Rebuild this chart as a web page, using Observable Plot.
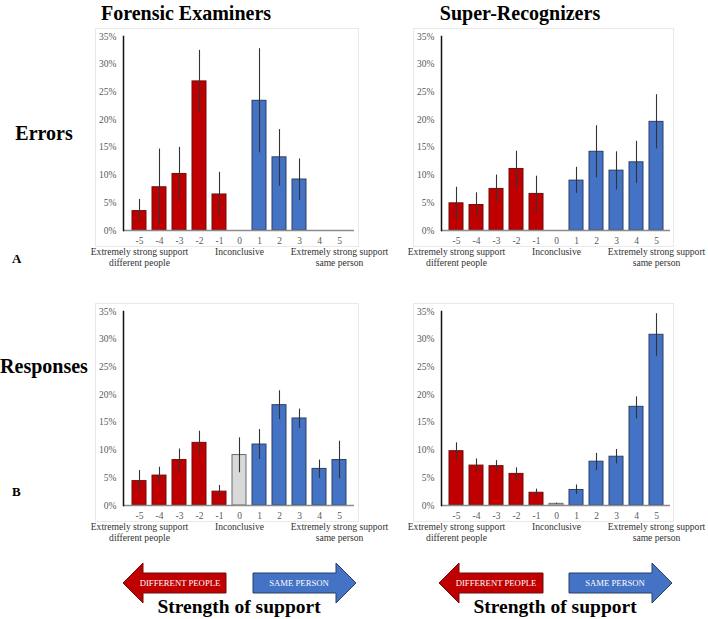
<!DOCTYPE html>
<html>
<head>
<meta charset="utf-8">
<script src="https://cdn.jsdelivr.net/npm/d3@7"></script>
<script src="https://cdn.jsdelivr.net/npm/@observablehq/plot@0.6"></script>
<style>
  html, body { margin: 0; padding: 0; background: #fff; }
  #root { position: relative; width: 708px; height: 619px; overflow: hidden; font-family: 'Liberation Serif', 'Times New Roman', Times, 'DejaVu Serif', serif; }
  .abs { position: absolute; }
  .frame { position: absolute; border: 1px solid #e9e9e9; box-sizing: border-box; }
  .title { position: absolute; font-weight: bold; font-size: 20px; color: #000; white-space: nowrap; transform: translateX(-50%); font-family: 'Liberation Serif', 'Times New Roman', Times, 'DejaVu Serif', serif; }
  .rowlab { position: absolute; font-weight: bold; font-size: 20px; color: #000; white-space: nowrap; transform: translateX(-50%); font-family: 'Liberation Serif', 'Times New Roman', Times, 'DejaVu Serif', serif; }
  .letter { position: absolute; font-weight: bold; font-size: 13px; color: #000; font-family: 'Liberation Serif', 'Times New Roman', Times, 'DejaVu Serif', serif; }
  svg text { font-family: 'Liberation Serif', 'Times New Roman', Times, 'DejaVu Serif', serif; }
</style>
</head>
<body>
<div id="root"></div>
<script>
const categories = ["-5","-4","-3","-2","-1","0","1","2","3","4","5"];

// Forensic Examiners — Errors (%)
const feErrors     = [3.5, 7.8, 10.2, 26.9, 6.5, 0, 23.4, 13.2, 9.2, 0, 0];
const feErrorsLow  = [1.5, 0.9, 5.3, 21.3, 2.4, null, 14.0, 8.0, 5.4, null, null];
const feErrorsHigh = [5.6, 14.7, 15.0, 32.5, 10.5, null, 32.8, 18.2, 12.9, null, null];

// Super-Recognizers — Errors (%)
const srErrors     = [4.9, 4.6, 7.5, 11.1, 6.6, 0, 9.0, 14.2, 10.8, 12.3, 19.6];
const srErrorsLow  = [1.8, 2.4, 5.0, 7.5, 3.2, null, 6.7, 9.5, 7.3, 8.5, 14.7];
const srErrorsHigh = [7.8, 6.8, 10.0, 14.3, 9.8, null, 11.4, 18.9, 14.2, 16.1, 24.5];

// Forensic Examiners — Responses (%)
const feResponses     = [4.4, 5.4, 8.2, 11.3, 2.5, 9.1, 11.0, 18.1, 15.7, 6.6, 8.2];
const feResponsesLow  = [2.5, 3.9, 6.0, 9.1, 1.5, 5.9, 8.3, 15.5, 13.9, 4.9, 4.8];
const feResponsesHigh = [6.3, 6.9, 10.2, 13.4, 3.6, 12.2, 13.7, 20.7, 17.4, 8.2, 11.6];

// Super-Recognizers — Responses (%)
const srResponses     = [9.8, 7.2, 7.1, 5.7, 2.3, 0.3, 2.8, 7.9, 8.8, 17.8, 30.8];
const srResponsesLow  = [8.1, 6.0, 6.0, 4.5, 1.75, 0.2, 2.0, 6.3, 7.5, 15.6, 26.9];
const srResponsesHigh = [11.3, 8.4, 8.1, 6.8, 2.95, 0.4, 3.7, 9.4, 10.1, 19.6, 34.6];

const yTicks = [0, 5, 10, 15, 20, 25, 30, 35];
const annotationCats = ["-5", "0", "5"];
const annotationTexts = ["Extremely strong support\ndifferent people", "Inconclusive", "Extremely strong support\nsame person"];

const columnTitles = ["Forensic Examiners", "Super-Recognizers"];
const rowTitles = ["Errors", "Responses"];
const rowLetters = ["A", "B"];
const arrowLabels = ["DIFFERENT PEOPLE", "SAME PERSON"];
const arrowCaption = "Strength of support";

const SERIF = "'Liberation Serif', 'Times New Roman', Times, 'DejaVu Serif', serif";
const RED = "#C00000", RED_DARK = "#6e0f0f";
const BLUE = "#4472C4", BLUE_DARK = "#2b3f66";
const GRAY = "#D9D9D9", GRAY_DARK = "#6b6b6b";

function fillFor(c) { const v = +c; return v < 0 ? RED : v > 0 ? BLUE : GRAY; }
function strokeFor(c) { const v = +c; return v < 0 ? RED_DARK : v > 0 ? BLUE_DARK : GRAY_DARK; }

function makeChart(values, lows, highs, marginRight) {
  const data = categories.map((c, i) => ({cat: c, v: values[i], lo: lows[i], hi: highs[i]}));
  const bars = data.filter(d => d.v > 0);
  const errs = data.filter(d => d.lo != null && d.hi != null);
  const ann = annotationCats.map((c, i) => ({cat: c, text: annotationTexts[i]}));
  return Plot.plot({
    width: 280,
    height: 250,
    marginLeft: 40,
    marginRight: marginRight,
    marginTop: 10,
    marginBottom: 46,
    style: {background: "transparent", overflow: "visible", fontFamily: SERIF, fontSize: "9.5px", color: "#595959"},
    x: {domain: categories, paddingInner: 0.3, paddingOuter: 0.18, tickSize: 0, tickPadding: 7, label: null},
    y: {domain: [0, 35], ticks: yTicks, tickFormat: d => d + "%", tickSize: 0, tickPadding: 7, label: null},
    color: {type: "identity"},
    marks: [
      Plot.barY(bars, {x: "cat", y: "v", fill: d => fillFor(d.cat), stroke: d => strokeFor(d.cat), strokeWidth: 1}),
      Plot.ruleX(errs, {x: "cat", y1: "lo", y2: "hi", stroke: "#333", strokeWidth: 1.1}),
      Plot.ruleY([0], {stroke: "#8c8c8c", strokeWidth: 1.5}),
      Plot.frame({anchor: "left", stroke: "#111", strokeWidth: 1.5}),
      Plot.text(ann, {x: "cat", y: 0, text: "text", dy: 17, lineAnchor: "top", lineHeight: 1.15, fontSize: 9.6, fill: "#333"})
    ]
  });
}

const root = document.getElementById("root");

// panel frames
[[95, 28, 359, 247], [413, 28, 674, 247], [95, 303, 359, 522], [413, 303, 674, 522]].forEach(([l, t, r, b]) => {
  const f = document.createElement("div");
  f.className = "frame";
  Object.assign(f.style, {left: l + "px", top: t + "px", width: (r - l) + "px", height: (b - t) + "px"});
  root.appendChild(f);
});

function place(el, left, top) {
  const w = document.createElement("div");
  w.className = "abs";
  w.style.left = left + "px";
  w.style.top = top + "px";
  w.appendChild(el);
  root.appendChild(w);
}

place(makeChart(feErrors, feErrorsLow, feErrorsHigh, 9), 83, 26);
place(makeChart(srErrors, srErrorsLow, srErrorsHigh, 11), 401, 26);
place(makeChart(feResponses, feResponsesLow, feResponsesHigh, 9), 83, 301);
place(makeChart(srResponses, srResponsesLow, srResponsesHigh, 11), 401, 301);

function addText(cls, text, left, top) {
  const d = document.createElement("div");
  d.className = cls;
  d.textContent = text;
  d.style.left = left + "px";
  d.style.top = top + "px";
  root.appendChild(d);
}
addText("title", columnTitles[0], 186, 2);
addText("title", columnTitles[1], 520, 2);
addText("rowlab", rowTitles[0], 44, 122);
addText("rowlab", rowTitles[1], 44, 355);
addText("letter", rowLetters[0], 12, 251);
addText("letter", rowLetters[1], 12, 484);

// arrows
const ns = "http://www.w3.org/2000/svg";
const svg = document.createElementNS(ns, "svg");
svg.setAttribute("width", 708);
svg.setAttribute("height", 619);
svg.style.position = "absolute";
svg.style.left = "0";
svg.style.top = "0";
svg.style.pointerEvents = "none";
root.appendChild(svg);

function arrowGroup(redTip, redBodyEnd, blueBodyStart, blueTip, redTextX, blueTextX, captionX) {
  const cy = 583, bh = 10, hh = 20, hw = 20;
  const red = document.createElementNS(ns, "polygon");
  red.setAttribute("points", [
    [redTip, cy], [redTip + hw, cy - hh], [redTip + hw, cy - bh], [redBodyEnd, cy - bh],
    [redBodyEnd, cy + bh], [redTip + hw, cy + bh], [redTip + hw, cy + hh]
  ].map(p => p.join(",")).join(" "));
  red.setAttribute("fill", RED);
  red.setAttribute("stroke", RED_DARK);
  red.setAttribute("stroke-width", 1);
  svg.appendChild(red);
  const blue = document.createElementNS(ns, "polygon");
  blue.setAttribute("points", [
    [blueBodyStart, cy - bh], [blueTip - hw, cy - bh], [blueTip - hw, cy - hh], [blueTip, cy],
    [blueTip - hw, cy + hh], [blueTip - hw, cy + bh], [blueBodyStart, cy + bh]
  ].map(p => p.join(",")).join(" "));
  blue.setAttribute("fill", BLUE);
  blue.setAttribute("stroke", BLUE_DARK);
  blue.setAttribute("stroke-width", 1);
  svg.appendChild(blue);
  [[arrowLabels[0], redTextX], [arrowLabels[1], blueTextX]].forEach(([t, x]) => {
    const tx = document.createElementNS(ns, "text");
    tx.setAttribute("x", x);
    tx.setAttribute("y", cy + 3);
    tx.setAttribute("text-anchor", "middle");
    tx.setAttribute("fill", "#fff");
    tx.style.fontFamily = SERIF;
    tx.setAttribute("font-size", "8.7px");
    tx.textContent = t;
    svg.appendChild(tx);
  });
  const cap = document.createElementNS(ns, "text");
  cap.setAttribute("x", captionX);
  cap.setAttribute("y", 613);
  cap.setAttribute("text-anchor", "middle");
  cap.style.fontFamily = SERIF;
  cap.setAttribute("font-weight", "bold");
  cap.setAttribute("font-size", "19.5px");
  cap.setAttribute("fill", "#000");
  cap.textContent = arrowCaption;
  svg.appendChild(cap);
}
arrowGroup(123, 226, 253, 356, 180, 299, 239);
arrowGroup(439, 543, 569, 672, 496, 615, 555);
</script>
</body>
</html>
